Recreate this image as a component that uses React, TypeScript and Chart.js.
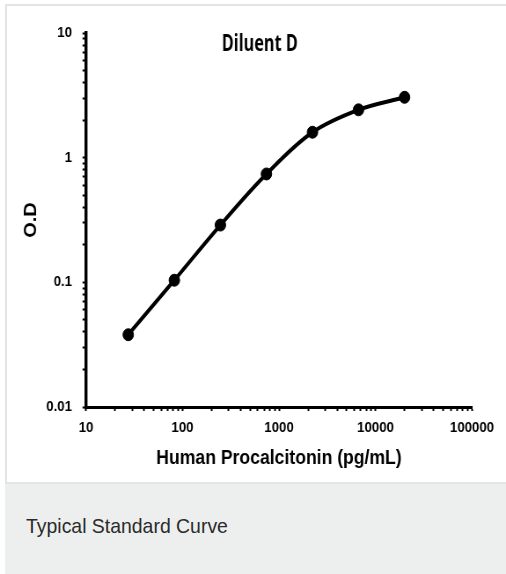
import React, { useEffect, useRef } from "react";
import { Chart, registerables } from "chart.js";

Chart.register(...registerables);

const concentrations = [27.4, 82.3, 246.9, 740.7, 2222, 6667, 20000];
const odValues = [0.038, 0.104, 0.288, 0.74, 1.6, 2.42, 3.05];
const xDecades = [10, 100, 1000, 10000, 100000];
const yDecades = [0.01, 0.1, 1, 10];
const chartTitle = "Diluent D";
const xTitle = "Human Procalcitonin (pg/mL)";
const yTitle = "O.D";
const caption = "Typical Standard Curve";

const SQUISH = 0.88;
const CW = 575;
const CH = 483;

const isDecade = (v: number, decades: number[]) =>
  decades.some((d) => Math.abs(v / d - 1) < 1e-9);

const buildTicks = (decades: number[]) => {
  const out: { value: number; major: boolean }[] = [];
  decades.forEach((d, i) => {
    out.push({ value: d, major: true });
    if (i < decades.length - 1) {
      for (let k = 2; k <= 9; k++) out.push({ value: d * k, major: false });
    }
  });
  return out;
};

const FONT = "'Liberation Sans', Arial, sans-serif";

const innerTitlePlugin = {
  id: "innerTitle",
  afterDraw(chart: any) {
    const { ctx, chartArea } = chart;
    ctx.save();
    ctx.font = "bold 23px 'Open Sans', 'Liberation Sans', sans-serif";
    ctx.fillStyle = "#000";
    ctx.textAlign = "center";
    ctx.textBaseline = "alphabetic";
    const cx = chartArea.left + (chartArea.right - chartArea.left) * 0.45;
    const w = ctx.measureText(chartTitle).width;
    const target = 76 / SQUISH;
    ctx.translate(cx, 51);
    ctx.scale(target / w, 1);
    ctx.fillText(chartTitle, 0, 0);
    ctx.restore();
  },
};

export default function App() {
  const ref = useRef<HTMLCanvasElement>(null);
  useEffect(() => {
    if (!ref.current) return;
    const chart = new Chart(ref.current, {
      type: "line",
      data: {
        datasets: [
          {
            data: concentrations.map((c, i) => ({ x: c, y: odValues[i] })),
            borderColor: "#000",
            backgroundColor: "#000",
            borderWidth: 4,
            tension: 0.35,
            pointRadius: 6,
            pointBackgroundColor: "#000",
            pointBorderColor: "#000",
            pointBorderWidth: 1,
          },
        ],
      },
      options: {
        responsive: false,
        animation: false,
        layout: { padding: { left: 0, right: CW - 472 / SQUISH, top: 33, bottom: 0 } },
        plugins: { legend: { display: false }, tooltip: { enabled: false }, title: { display: false } },
        scales: {
          x: {
            type: "logarithmic",
            min: 10,
            max: 100000,
            afterFit: (s: any) => {
              s.height = CH - 407;
            },
            afterBuildTicks: (s: any) => {
              s.ticks = buildTicks(xDecades);
            },
            border: { display: true, color: "#000", width: 3 },
            grid: { drawOnChartArea: false, drawTicks: true, tickLength: 4, tickColor: "#000", tickWidth: 2 },
            ticks: {
              autoSkip: false,
              maxRotation: 0,
              padding: 8,
              color: "#000",
              font: { family: FONT, size: 15, weight: "bold" },
              callback: (v: any) => (isDecade(Number(v), xDecades) ? String(Number(v)) : ""),
            },
            title: {
              display: true,
              text: xTitle,
              color: "#000",
              font: { family: FONT, size: 20, weight: "bold" },
              padding: { top: 0, bottom: 13 },
            },
          },
          y: {
            type: "logarithmic",
            min: 0.01,
            max: 10,
            afterFit: (s: any) => {
              s.width = 86 / SQUISH;
            },
            afterBuildTicks: (s: any) => {
              s.ticks = buildTicks(yDecades);
            },
            border: { display: true, color: "#000", width: 3.4 },
            grid: { drawOnChartArea: false, drawTicks: true, tickLength: 4, tickColor: "#000", tickWidth: 2 },
            ticks: {
              autoSkip: false,
              padding: 12,
              color: "#000",
              font: { family: FONT, size: 15, weight: "bold" },
              callback: (v: any) => (isDecade(Number(v), yDecades) ? String(Number(v)) : ""),
            },
            title: {
              display: true,
              text: yTitle,
              color: "#000",
              font: { family: FONT, size: 20, weight: "bold" },
              padding: { top: 23, bottom: 0 },
            },
          },
        },
      },
      plugins: [innerTitlePlugin],
    });
    return () => chart.destroy();
  }, []);

  return (
    <div style={{ position: "absolute", left: 0, top: 0, width: 506, height: 574, background: "#fff", overflow: "hidden" }}>
      <div
        style={{
          position: "absolute",
          left: 5,
          top: 4,
          width: 510,
          height: 480,
          boxSizing: "border-box",
          border: "2px solid #e4e4e4",
          background: "#fff",
        }}
      />
      <div
        style={{
          position: "absolute",
          left: 0,
          top: 0,
          width: CW,
          height: CH,
          transform: `scaleX(${SQUISH})`,
          transformOrigin: "left top",
        }}
      >
        <canvas ref={ref} width={CW} height={CH} />
      </div>
      <div style={{ position: "absolute", left: 5, top: 484, width: 501, height: 90, background: "#edefee" }} />
      <div
        style={{
          position: "absolute",
          left: 26,
          top: 515,
          fontFamily: FONT,
          fontSize: 21,
          lineHeight: "21px",
          color: "#2b2b2b",
          whiteSpace: "nowrap",
          transform: "scaleX(0.925)",
          transformOrigin: "left top",
        }}
      >
        {caption}
      </div>
    </div>
  );
}
